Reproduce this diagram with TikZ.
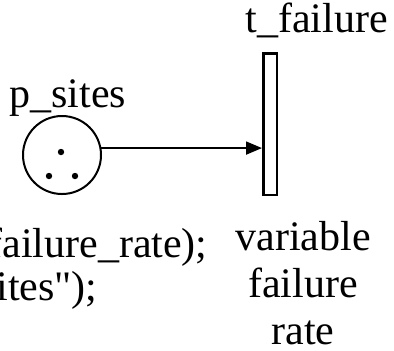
\documentclass[tikz,border=0pt]{standalone}
\usepackage{fontspec}
\setmainfont{Liberation Serif}
\usetikzlibrary{arrows.meta,positioning,calc}
\tikzset{
  placenode/.style={circle,draw,line width=1pt,minimum size=39pt,inner sep=0pt},
  transbox/.style={rectangle,draw,line width=1.25pt,minimum width=6.75pt,
    minimum height=70.75pt,inner sep=0pt},
  tokendot/.style={circle,fill,minimum size=3.2pt,inner sep=0pt},
  arcarrow/.style={-{Triangle[length=8pt,width=6.5pt]},line width=0.9pt},
  labeltext/.style={font=\fontsize{21}{23.5}\selectfont,inner sep=0pt},
}

\begin{document}
\begin{tikzpicture}[x=0.5pt,y=-0.5pt]
        \clip (0,0) rectangle (394,350);
        \node[placenode] (sites) at (62,155) {};
        \node[tokendot] (tokena) at (61,152) {};
        \node[tokendot] (tokenb) at (49,176) {};
        \node[tokendot] (tokenc) at (75,176) {};
        \node[transbox] (failure) at (270,124) {};
        \node[labeltext,anchor=base west] (pname) at (9,107) {p\_sites};
        \node[labeltext,anchor=base west] (tname) at (245,32) {t\_failure};
        \node[labeltext,align=center,anchor=base] (ratenote) at (303,344)
          {variable\\failure\\rate};
        \node[labeltext,anchor=base west] (ratecall) at (-12,257) {failure\_rate);};
        \node[labeltext,anchor=base west] (sitecall) at (-4,300)
          {ites\textquotedbl);};
        \draw[arcarrow] (sites.10) -- (sites.10 -| failure.west);
      \end{tikzpicture}
\end{document}
